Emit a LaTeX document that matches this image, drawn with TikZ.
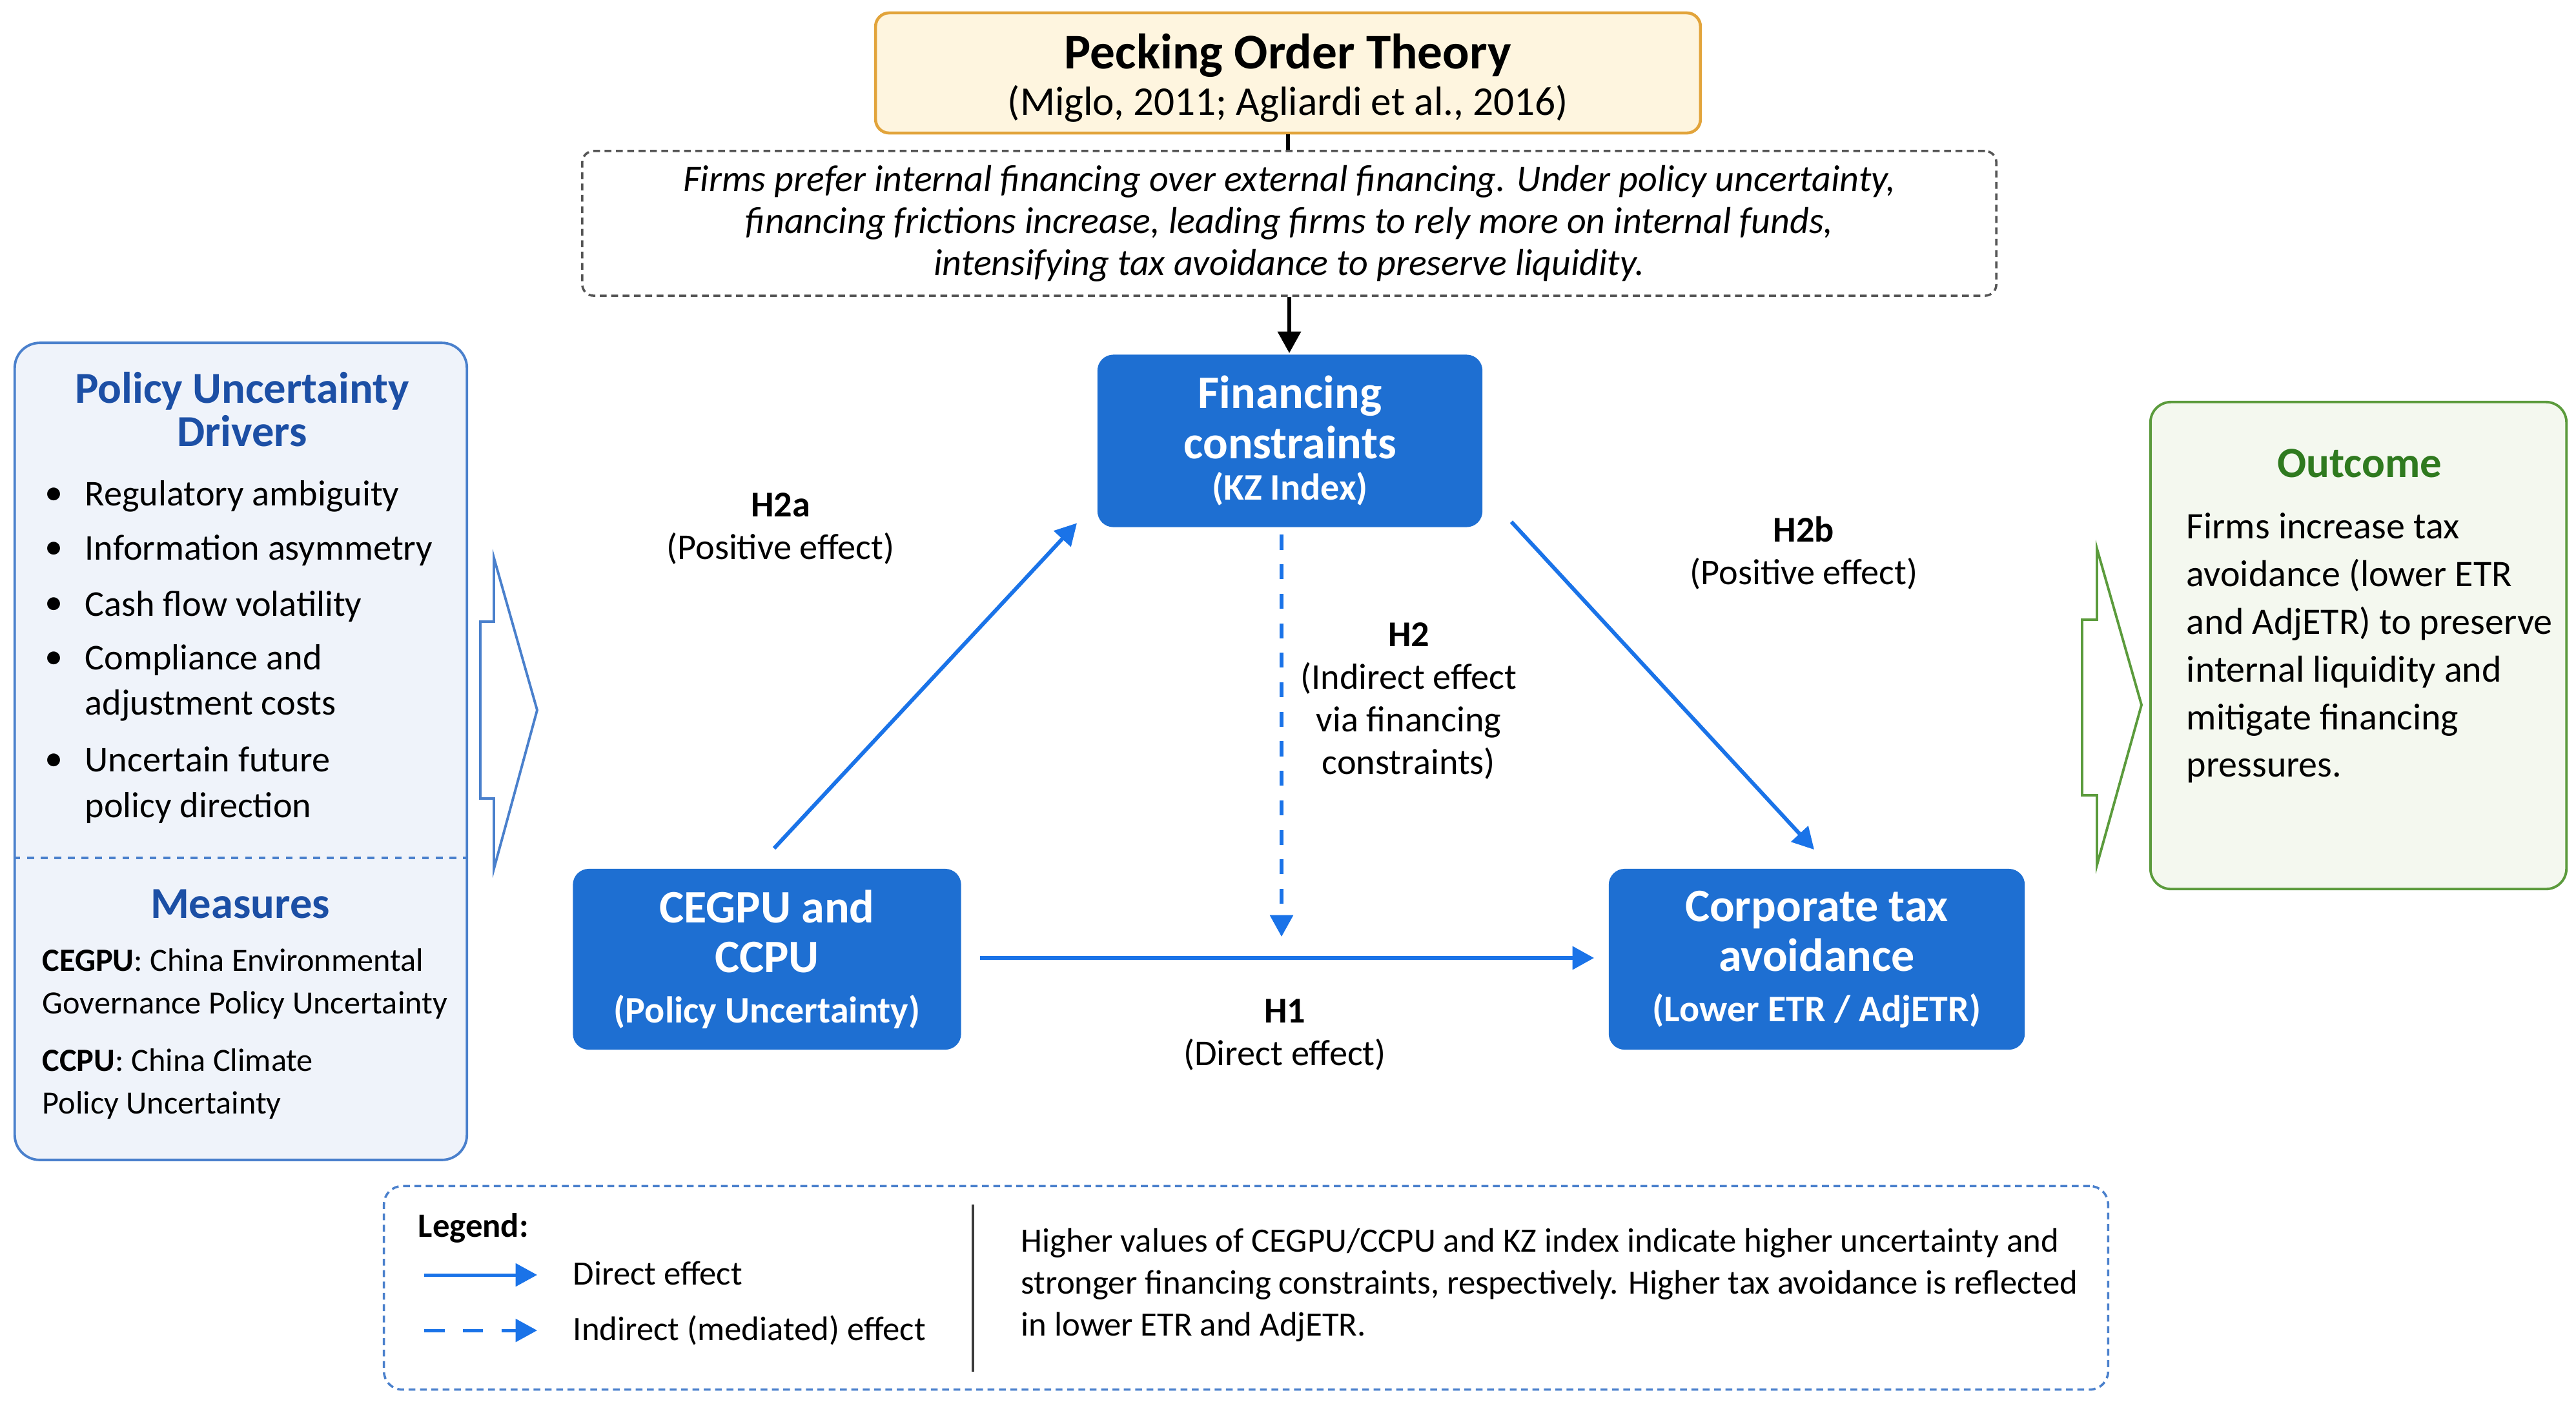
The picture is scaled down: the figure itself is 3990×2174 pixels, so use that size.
\documentclass[tikz,border=0pt]{standalone}
\usepackage{fontspec}
\setmainfont{Carlito}
\usetikzlibrary{arrows.meta, calc}
\definecolor{cblue}{HTML}{1E6FD2}
\definecolor{carrow}{HTML}{1A73E8}
\definecolor{cnavy}{HTML}{1C4FA5}
\definecolor{cpanel}{HTML}{EFF3FA}
\definecolor{cpaneledge}{HTML}{4A80CC}
\definecolor{cgreen}{HTML}{5B9B3C}
\definecolor{cgreenfill}{HTML}{F4F8EF}
\definecolor{cgreentext}{HTML}{2F7A1F}
\definecolor{corange}{HTML}{E2A43B}
\definecolor{cyellow}{HTML}{FEF5DF}
\definecolor{cgrey}{HTML}{555555}
\newcommand{\fsz}[2]{\fontsize{#1}{#2}\selectfont}
\tikzset{
  every picture/.style={line width=1pt},
  box/.style={fill=cblue, rounded corners=7pt, text=white, align=center, inner sep=0pt, font=\bfseries\fsz{20.5}{22}},
  arrow/.style={-{Triangle[length=9.5pt,width=10pt]}, draw=carrow, line width=1.7pt},
  dasharrow/.style={arrow, dash pattern=on 6.6pt off 6.4pt},
  lab/.style={align=center, font=\fsz{16}{18.8}},
  txt/.style={anchor=west, align=left, inner sep=0pt},
}

\begin{document}
\begin{tikzpicture}[x=0.01cm, y=-0.01cm,
  panel/.style={draw=cpaneledge, fill=cpanel, rounded corners=11pt, line width=1.1pt},
  head/.style={align=center, inner sep=0pt, font=\bfseries\fsz{19.5}{19}},
  item/.style={txt, font=\fsz{16}{20}}]
  \useasboundingbox (0,0) rectangle (3990,2174);

  % theory on top
  \node[draw=corange, fill=cyellow, rounded corners=6pt, line width=1.3pt, minimum width=12.77cm, minimum height=1.86cm, align=center, font=\fsz{18}{20.6}] (peck) at (1995,113) {{\bfseries\fsz{22}{24}\rule{0pt}{20pt}Pecking Order Theory}\\(Miglo, 2011; Agliardi et al., 2016)};
  \node[draw=cgrey, dash pattern=on 3pt off 2pt, rounded corners=5pt, minimum width=21.89cm, minimum height=2.24cm, align=center, font=\itshape\fsz{16.5}{18.5}] (theory) at (1997,346) {Firms prefer internal financing over external financing. Under policy uncertainty,\\financing frictions increase, leading firms to rely more on internal funds,\\intensifying tax avoidance to preserve liquidity.};
  \draw[line width=1.7pt] (peck.south) -- (peck.south |- theory.north);
  \draw[line width=1.7pt, -{Triangle[length=9.5pt,width=10pt]}] (theory.south) -- (theory.south |- 0,547);

  % the three variables
  \node[box, minimum width=5.96cm, minimum height=2.67cm] (fin) at (1998,683) {Financing\\constraints\\[-3.6pt]{\fsz{16.5}{19}(KZ Index)}};
  \node[box, minimum width=6.01cm, minimum height=2.80cm] (cegpu) at (1188,1486) {CEGPU and\\CCPU\\{\fsz{16.5}{19}(Policy Uncertainty)}};
  \node[box, minimum width=6.44cm, minimum height=2.80cm] (corp) at (2814,1486) {Corporate tax\\avoidance\\{\fsz{16.5}{19}(Lower ETR / AdjETR)}};

  \coordinate (med) at (1985,1451);
  \draw[arrow] ($(cegpu.north)+(11,-30)$) -- ($(fin.south west)+(-30,-8)$);
  \draw[arrow] ($(fin.south east)+(43,-10)$) -- ($(corp.north)+(-4,-28)$);
  \draw[arrow] ($(cegpu.east)+(28,-2)$) -- ($(corp.west)+(-21,-2)$);
  \draw[dasharrow] ($(fin.south)+(-13,10)$) -- (med);

  \node[lab] (la) at (1209,819) {\textbf{H2a}\\(Positive effect)};
  \node[lab] (lb) at (2794,857) {\textbf{H2b}\\(Positive effect)};
  \node[lab] (lm) at (2182,1086) {\textbf{H2}\\(Indirect effect\\via financing\\constraints)};
  \node[lab] (ld) at (1990,1603) {\textbf{H1}\\(Direct effect)};

  % drivers panel
  \node[panel, minimum width=7.00cm, minimum height=12.65cm] (drv) at (373,1164) {};
  \draw[cpaneledge, dashed, line width=1.1pt] (drv.west |- 0,1329) -- (drv.east |- 0,1329);
  \node[head, text=cnavy] (drvtitle) at (375,634) {Policy Uncertainty\\Drivers};
  \foreach \y/\t [count=\i] in {769/Regulatory ambiguity, 853/Information asymmetry, 939/Cash flow volatility, 1058/{Compliance and\\adjustment costs}, 1216/{Uncertain future\\policy direction}}
    \node[item] (it\i) at (130,\y) {\t};
  \foreach \y [count=\i] in {769, 853, 939, 1023, 1181}
    \node[font=\fsz{16}{20}, inner sep=0pt] (dot\i) at (84,\y) {•};
  \node[head, text=cnavy] (meas) at (372,1400) {Measures};
  \node[txt, font=\fsz{14.3}{18.8}] (m1) at (64,1524) {\textbf{CEGPU}: China Environmental\\Governance Policy Uncertainty};
  \node[txt, font=\fsz{14.3}{18.8}] (m2) at (64,1679) {\textbf{CCPU}: China Climate\\Policy Uncertainty};
  \draw[draw=cpaneledge, fill=white, line width=1.1pt] (744,963) -- (765,963) -- (765,864) -- (832,1100) -- (765,1346) -- (765,1237) -- (744,1237) -- cycle;

  % outcome panel
  \draw[draw=cgreen, fill=white, line width=1.1pt] (3225,960) -- (3248,960) -- (3248,850) -- (3317,1092) -- (3248,1340) -- (3248,1232) -- (3225,1232) -- cycle;
  \node[panel, draw=cgreen, fill=cgreenfill, rounded corners=9pt, minimum width=6.44cm, minimum height=7.54cm] (out) at (3653,1000) {};
  \node[head, text=cgreentext, font=\bfseries\fsz{19}{19}] (outtitle) at (3655,718) {Outcome};
  \node[txt, font=\fsz{16.5}{21}] (outtext) at (3385,1004) {Firms increase tax\\avoidance (lower ETR\\and AdjETR) to preserve\\internal liquidity and\\mitigate financing\\pressures.};

  % legend
  \node[draw=cpaneledge, dash pattern=on 3pt off 2pt, rounded corners=8pt, minimum width=26.69cm, minimum height=3.15cm] (leg) at (1930,1995) {};
  \node[txt, font=\bfseries\fsz{15}{18}] (legtitle) at (646,1902) {Legend:};
  \coordinate (l1a) at (657,1975); \coordinate (l1b) at (832,1975);
  \coordinate (l2a) at (657,2061); \coordinate (l2b) at (832,2061);
  \draw[arrow, line width=1.4pt] (l1a) -- (l1b);
  \draw[arrow, line width=1.4pt, dash pattern=on 9pt off 8pt] (l2a) -- (l2b);
  \node[txt, font=\fsz{15}{18}] (legdir) at (886,1972) {Direct effect};
  \node[txt, font=\fsz{15}{18}] (legind) at (886,2061) {Indirect (mediated) effect};
  \draw[cgrey!70!black] (1507,1866) -- (1507,2125);
  \node[txt, font=\fsz{15}{18.5}] (legnote) at (1580,1991) {Higher values of CEGPU/CCPU and KZ index indicate higher uncertainty and\\stronger financing constraints, respectively. Higher tax avoidance is reflected\\in lower ETR and AdjETR.};
\end{tikzpicture}
\end{document}
